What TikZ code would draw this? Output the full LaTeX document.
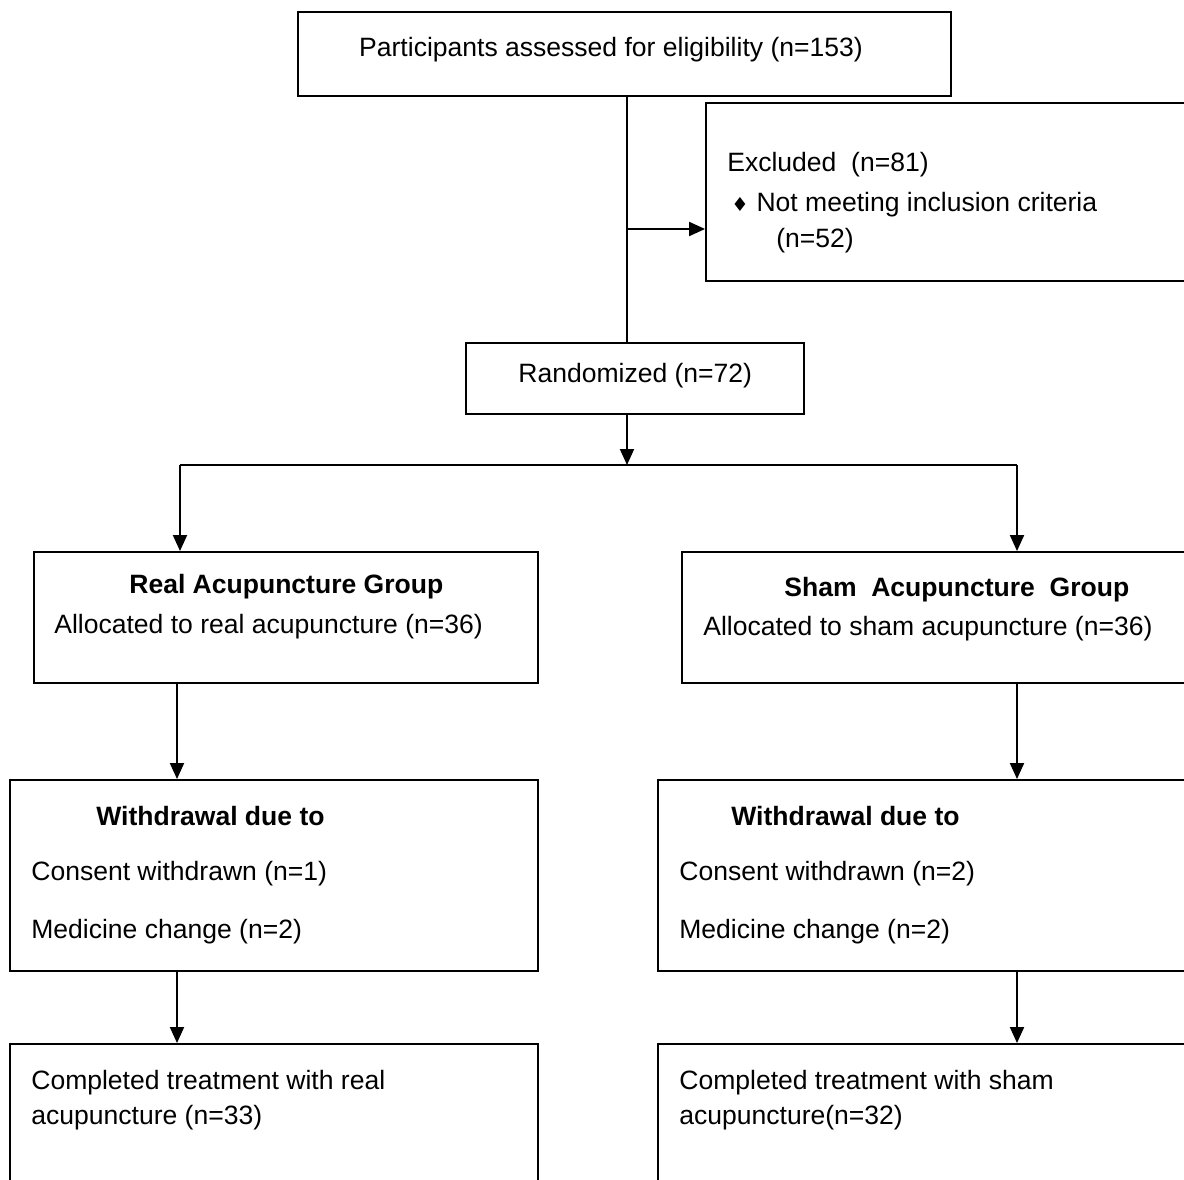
\documentclass[tikz,border=0pt]{standalone}
\usepackage{fontspec}
\setmainfont{Liberation Sans}
\newfontfamily\symfont{DejaVu Sans}
\usetikzlibrary{arrows.meta}
\tikzset{
  box/.style={draw, line width=1.1pt, inner sep=0pt},
  arr/.style={line width=1.1pt, -{Triangle[length=0.32cm,width=0.28cm]}},
  line/.style={line width=1.1pt},
  txt/.style={anchor=west, inner sep=0pt, font=\fontsize{15.1}{18}\selectfont},
  bold/.style={txt, font=\fontsize{15.1}{18}\selectfont\bfseries}
}
\begin{document}
\begin{tikzpicture}[x=0.02cm, y=-0.02cm]
		%%%%% START %%%%%
		\useasboundingbox (0,0) rectangle (1184,1180);
		\clip (0,0) rectangle (1184,1180);
		
		% boxes
		\node[box, minimum width=13.06cm, minimum height=1.68cm] (elig) at (624.5, 54) {};
		\node[box, minimum width=10.88cm, minimum height=3.56cm] (excl) at (978, 192) {};
		\node[box, minimum width=6.76cm, minimum height=1.42cm] (rand) at (635, 378.5) {};
		\node[box, minimum width=10.08cm, minimum height=2.62cm] (real) at (286, 617.5) {};
		\node[box, minimum width=11.36cm, minimum height=2.62cm] (sham) at (966, 617.5) {};
		\node[box, minimum width=10.56cm, minimum height=3.82cm] (wdl) at (274, 875.5) {};
		\node[box, minimum width=11.84cm, minimum height=3.82cm] (wdr) at (954, 875.5) {};
		\node[box, minimum width=10.56cm, minimum height=4.12cm] (compl) at (274, 1147) {};
		\node[box, minimum width=11.84cm, minimum height=4.12cm] (compr) at (954, 1147) {};
		
		% texts
		\node[txt, anchor=center] (t1) at (611, 50) {Participants assessed for eligibility (n=153)};
		\node[txt] (t2) at (727, 165) {Excluded\ \ (n=81)};
		\node[txt] (t3) at (731, 205) {{\symfont\fontsize{11}{12}\selectfont ♦}\hspace{4.5pt}Not meeting inclusion criteria};
		\node[txt] (t4) at (776, 241) {(n=52)};
		\node[txt] (t5) at (518, 376) {Randomized (n=72)};
		\node[bold] (t6) at (129, 587) {Real Acupuncture Group};
		\node[txt] (t7) at (54, 627) {Allocated to real acupuncture (n=36)};
		\node[bold] (t8) at (784, 590) {Sham\ \ Acupuncture\ \ Group};
		\node[txt] (t9) at (703, 629) {Allocated to sham acupuncture (n=36)};
		\node[bold] (t10) at (96, 816) {Withdrawal due to};
		\node[txt] (t11) at (31, 874) {Consent withdrawn (n=1)};
		\node[txt] (t12) at (31, 932) {Medicine change (n=2)};
		\node[bold] (t13) at (731, 816) {Withdrawal due to};
		\node[txt] (t14) at (679, 874) {Consent withdrawn (n=2)};
		\node[txt] (t15) at (679, 932) {Medicine change (n=2)};
		\node[txt] (t16) at (31, 1083) {Completed treatment with real};
		\node[txt] (t17) at (31, 1118) {acupuncture (n=33)};
		\node[txt] (t18) at (679, 1083) {Completed treatment with sham};
		\node[txt] (t19) at (679, 1118) {acupuncture(n=32)};
		
		% connectors
		\coordinate (split) at (627, 229);
		\coordinate (fork) at (627, 465);
		\coordinate (forkl) at (180, 465);
		\coordinate (forkr) at (1017, 465);
		\coordinate (colL) at (177, 0);
		\coordinate (colR) at (1017, 0);
		
		\draw[line] (elig.south -| split) -- (rand.north -| split);
		\draw[arr] (split) -- (split -| excl.west);
		\draw[arr] (rand.south -| fork) -- (fork);
		\draw[line] (forkl) -- (forkr);
		\draw[arr] (forkl) -- (forkl |- real.north);
		\draw[arr] (forkr) -- (forkr |- sham.north);
		\draw[arr] (real.south -| colL) -- (wdl.north -| colL);
		\draw[arr] (sham.south -| colR) -- (wdr.north -| colR);
		\draw[arr] (wdl.south -| colL) -- (compl.north -| colL);
		\draw[arr] (wdr.south -| colR) -- (compr.north -| colR);
		
		%%%%% END %%%%%
	\end{tikzpicture}
\end{document}
